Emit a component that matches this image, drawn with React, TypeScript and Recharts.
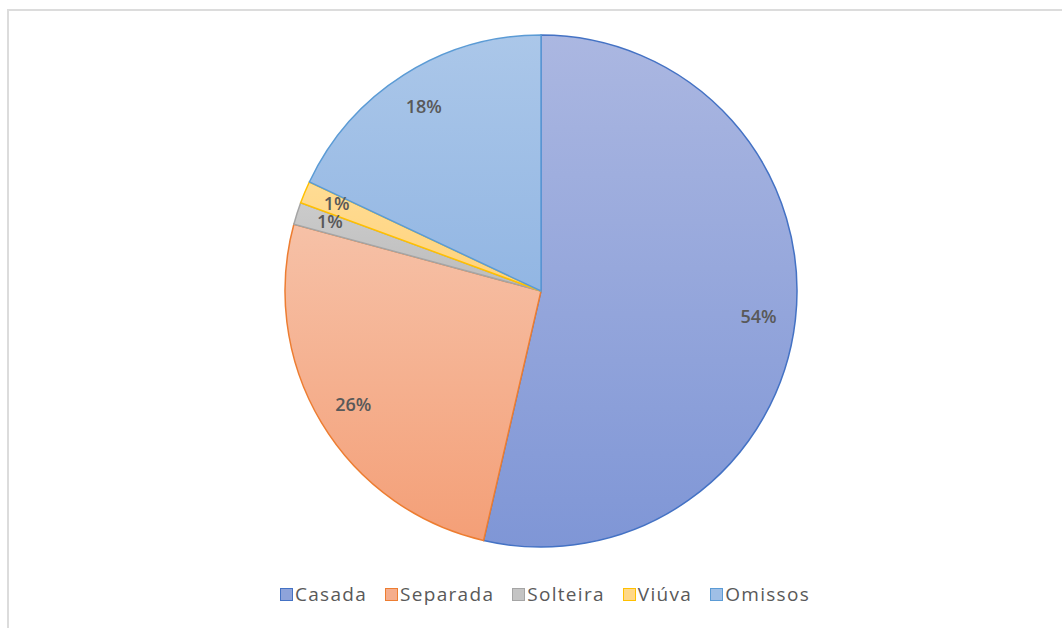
import { PieChart, Pie, Cell, Legend } from 'recharts'

const categories = ['Casada', 'Separada', 'Solteira', 'Viúva', 'Omissos']
const shares = [53.6, 25.6, 1.4, 1.4, 18.0]

const strokes = ['#4472c4', '#ed7d31', '#a5a5a5', '#ffc000', '#5b9bd5']
const gradTop = ['#abb7e1', '#f6c1a7', '#cbcbcb', '#ffdc94', '#abc7e9']
const gradBottom = ['#7f96d6', '#f49f77', '#bcbcbc', '#ffd27a', '#92b6e3']
const swatches = ['#8ea3da', '#f5ad8c', '#c4c4c4', '#ffd888', '#9fbfe6']

const data = categories.map((name, i) => ({ name, value: shares[i] }))
const RAD = Math.PI / 180

const renderLabel = (props: any) => {
  const { cx, cy, midAngle, outerRadius, percent } = props
  const small = percent < 0.05
  const r = outerRadius * (small ? 0.865 : 0.855)
  const x = cx + r * Math.cos(-midAngle * RAD)
  const y = cy + r * Math.sin(-midAngle * RAD) - (small ? 3 : 0)
  return (
    <text
      x={x}
      y={y}
      textAnchor="middle"
      dominantBaseline="central"
      fontSize={18}
      fontWeight={600}
      fill="#595959"
      fontFamily="'Open Sans', sans-serif"
    >
      {`${Math.round(percent * 100)}%`}
    </text>
  )
}

const LegendContent = () => (
  <div
    style={{
      display: 'flex',
      justifyContent: 'center',
      gap: 18,
      paddingLeft: 28,
      fontFamily: "'Open Sans', sans-serif",
      fontSize: 19,
      letterSpacing: 1.3,
      color: '#595959',
    }}
  >
    {categories.map((c, i) => (
      <div key={c} style={{ display: 'flex', alignItems: 'center' }}>
        <span
          style={{
            width: 11,
            height: 11,
            background: swatches[i],
            border: `1px solid ${strokes[i]}`,
            marginRight: 2,
            display: 'inline-block',
          }}
        />
        <span>{c}</span>
      </div>
    ))}
  </div>
)

export default function App() {
  return (
    <div style={{ position: 'absolute', left: 0, top: 0, width: 1062, height: 628, background: '#fff', overflow: 'hidden' }}>
      <div
        style={{
          position: 'absolute',
          left: 7,
          top: 9,
          width: 1062,
          height: 628,
          borderTop: '2px solid #dcdcdc',
          borderLeft: '2px solid #dcdcdc',
        }}
      />
      <PieChart
        width={1062}
        height={628}
        margin={{ top: 0, right: 0, bottom: 0, left: 0 }}
        style={{ position: 'absolute', left: 0, top: 0 }}
      >
        <defs>
          {categories.map((c, i) => (
            <linearGradient key={c} id={`g${i}`} x1="0" y1="0" x2="0" y2="1">
              <stop offset="0%" stopColor={gradTop[i]} />
              <stop offset="100%" stopColor={gradBottom[i]} />
            </linearGradient>
          ))}
        </defs>
        <Pie
          data={data}
          dataKey="value"
          nameKey="name"
          cx={541}
          cy={291}
          outerRadius={256}
          startAngle={90}
          endAngle={-270}
          label={renderLabel}
          labelLine={false}
          isAnimationActive={false}
        >
          {data.map((d, i) => (
            <Cell key={d.name} fill={`url(#g${i})`} stroke={strokes[i]} strokeWidth={1.5} />
          ))}
        </Pie>
        <Legend
          verticalAlign="bottom"
          align="center"
          content={<LegendContent />}
          wrapperStyle={{ bottom: 21 }}
        />
      </PieChart>
    </div>
  )
}
